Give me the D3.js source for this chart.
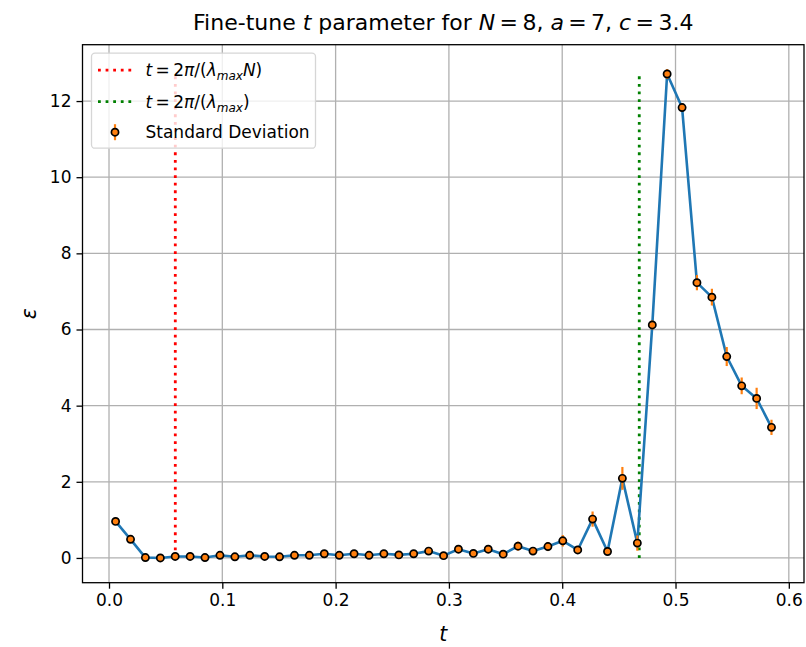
<!DOCTYPE html>
<html>
<head>
<meta charset="utf-8">
<script src="https://cdn.jsdelivr.net/npm/d3@7"></script>
<style>
body { margin: 0; background: #fff; }
svg text { font-family: "DejaVu Sans", sans-serif; fill: #000; }
</style>
</head>
<body>
<div class="chart"></div>
<script>
// sampled t values
var tValues = [0.0058, 0.0190, 0.0321, 0.0453, 0.0584, 0.0716, 0.0847, 0.0979, 0.1111, 0.1242,
    0.1374, 0.1505, 0.1637, 0.1768, 0.1900, 0.2032, 0.2163, 0.2295, 0.2426, 0.2558,
    0.2689, 0.2821, 0.2953, 0.3084, 0.3216, 0.3347, 0.3479, 0.3610, 0.3742, 0.3874,
    0.4005, 0.4137, 0.4268, 0.4400, 0.4531, 0.4663, 0.4795, 0.4926, 0.5058, 0.5189,
    0.5321, 0.5452, 0.5584, 0.5716, 0.5847];

// mean epsilon
var epsValues = [0.96, 0.49, 0.01, 0.00, 0.04, 0.04, 0.01, 0.07, 0.03, 0.07,
    0.04, 0.03, 0.07, 0.07, 0.11, 0.07, 0.11, 0.07, 0.11, 0.08,
    0.11, 0.18, 0.06, 0.23, 0.12, 0.23, 0.10, 0.31, 0.18, 0.30,
    0.45, 0.21, 1.02, 0.17, 2.09, 0.39, 6.12, 12.71, 11.83, 7.23,
    6.85, 5.29, 4.52, 4.19, 3.43];

// standard deviation
var epsErrors = [0.06, 0.05, 0.03, 0.03, 0.04, 0.03, 0.03, 0.04, 0.03, 0.04,
    0.03, 0.04, 0.04, 0.04, 0.05, 0.04, 0.05, 0.04, 0.05, 0.04,
    0.05, 0.08, 0.04, 0.10, 0.06, 0.09, 0.05, 0.12, 0.08, 0.12,
    0.15, 0.10, 0.20, 0.08, 0.30, 0.20, 0.12, 0.13, 0.10, 0.20,
    0.22, 0.25, 0.22, 0.28, 0.20];

var xTicks = [0.0, 0.1, 0.2, 0.3, 0.4, 0.5, 0.6];
var yTicks = [0, 2, 4, 6, 8, 10, 12];

var tRed = 0.0585;   // 2pi/(lambda_max N)
var tGreen = 0.468;  // 2pi/lambda_max

var svgWidth = 806;
var svgHeight = 647;

var margin = {
    top: 44.7,
    right: 2,
    bottom: 64.3,
    left: 82.5
};

var width = svgWidth - margin.left - margin.right;
var height = svgHeight - margin.top - margin.bottom;

var svg = d3.select(".chart")
    .append("svg")
    .attr("width", svgWidth)
    .attr("height", svgHeight);

var chartGroup = svg.append("g")
    .attr("transform", `translate(${margin.left}, ${margin.top})`);

var xScale = d3.scaleLinear()
    .domain([-0.0234, 0.6134])
    .range([0, width]);

var yScale = d3.scaleLinear()
    .domain([-0.65, 13.48])
    .range([height, 0]);

// grid
chartGroup.append("g")
    .selectAll("line")
    .data(xTicks)
    .enter()
    .append("line")
    .attr("x1", d => xScale(d))
    .attr("x2", d => xScale(d))
    .attr("y1", 0)
    .attr("y2", height)
    .attr("stroke", "#b0b0b0")
    .attr("stroke-width", 1.3);

chartGroup.append("g")
    .selectAll("line")
    .data(yTicks)
    .enter()
    .append("line")
    .attr("x1", 0)
    .attr("x2", width)
    .attr("y1", d => yScale(d))
    .attr("y2", d => yScale(d))
    .attr("stroke", "#b0b0b0")
    .attr("stroke-width", 1.3);

// axes
var bottomAxis = d3.axisBottom(xScale)
    .tickValues(xTicks)
    .tickFormat(d3.format(".1f"))
    .tickSize(6)
    .tickPadding(5);

var leftAxis = d3.axisLeft(yScale)
    .tickValues(yTicks)
    .tickFormat(d3.format("d"))
    .tickSize(6)
    .tickPadding(5);

var xAxisG = chartGroup.append("g")
    .attr("transform", `translate(0, ${height})`)
    .call(bottomAxis);

var yAxisG = chartGroup.append("g").call(leftAxis);

[xAxisG, yAxisG].forEach(function(g) {
    g.select(".domain").remove();
    g.selectAll(".tick line").attr("stroke", "#000").attr("stroke-width", 1.3);
    g.selectAll(".tick text")
        .attr("font-size", "17px")
        .attr("font-family", "DejaVu Sans")
        .attr("fill", "#262626");
});

// vertical reference lines
var ymaxVal = d3.max(epsValues);
[[tRed, "red"], [tGreen, "green"]].forEach(function(v) {
    chartGroup.append("line")
        .attr("x1", xScale(v[0]))
        .attr("x2", xScale(v[0]))
        .attr("y1", yScale(0))
        .attr("y2", yScale(ymaxVal))
        .attr("stroke", v[1])
        .attr("stroke-width", 2.8)
        .attr("stroke-dasharray", "2.8,4.8");
});

// line
var line = d3.line()
    .x((d, i) => xScale(tValues[i]))
    .y(d => yScale(d));

chartGroup.append("path")
    .datum(epsValues)
    .attr("d", line)
    .attr("fill", "none")
    .attr("stroke", "#1f77b4")
    .attr("stroke-width", 2.6)
    .attr("stroke-linejoin", "round")
    .attr("stroke-linecap", "round");

// error bars
chartGroup.append("g")
    .selectAll("line")
    .data(epsValues)
    .enter()
    .append("line")
    .attr("x1", (d, i) => xScale(tValues[i]))
    .attr("x2", (d, i) => xScale(tValues[i]))
    .attr("y1", (d, i) => yScale(d - epsErrors[i]))
    .attr("y2", (d, i) => yScale(d + epsErrors[i]))
    .attr("stroke", "#ff7f0e")
    .attr("stroke-width", 2.2);

// markers
chartGroup.append("g")
    .selectAll("circle")
    .data(epsValues)
    .enter()
    .append("circle")
    .attr("cx", (d, i) => xScale(tValues[i]))
    .attr("cy", d => yScale(d))
    .attr("r", 3.6)
    .attr("fill", "#ff7f0e")
    .attr("stroke", "#000")
    .attr("stroke-width", 1.7);

// frame
chartGroup.append("rect")
    .attr("x", 0)
    .attr("y", 0)
    .attr("width", width)
    .attr("height", height)
    .attr("fill", "none")
    .attr("stroke", "#000")
    .attr("stroke-width", 1.3);

// legend
var legend = chartGroup.append("g")
    .attr("transform", "translate(9, 8.5)");

legend.append("rect")
    .attr("width", 224)
    .attr("height", 95)
    .attr("rx", 3.5)
    .attr("fill", "#fff")
    .attr("fill-opacity", 0.8)
    .attr("stroke", "#d6d6d6")
    .attr("stroke-width", 1.3);

var rowY = [17, 48.5, 79];

[["red", 0], ["green", 1]].forEach(function(r) {
    legend.append("line")
        .attr("x1", 6.5)
        .attr("x2", 40.5)
        .attr("y1", rowY[r[1]])
        .attr("y2", rowY[r[1]])
        .attr("stroke", r[0])
        .attr("stroke-width", 2.8)
        .attr("stroke-dasharray", "2.8,4.8");
});

legend.append("line")
    .attr("x1", 23.5)
    .attr("x2", 23.5)
    .attr("y1", rowY[2] - 8)
    .attr("y2", rowY[2] + 8)
    .attr("stroke", "#ff7f0e")
    .attr("stroke-width", 2.2);

legend.append("circle")
    .attr("cx", 23.5)
    .attr("cy", rowY[2])
    .attr("r", 3.6)
    .attr("fill", "#ff7f0e")
    .attr("stroke", "#000")
    .attr("stroke-width", 1.7);

function mathLabel(g, y, withN) {
    var t = g.append("text")
        .attr("x", 54)
        .attr("y", y + 6)
        .attr("font-size", "17px");
    t.append("tspan").attr("font-style", "italic").text("t");
    t.append("tspan").text("\u2009=\u20092");
    t.append("tspan").attr("font-style", "italic").text("\u03c0");
    t.append("tspan").text("/(");
    t.append("tspan").attr("font-style", "italic").text("\u03bb");
    t.append("tspan").attr("font-style", "italic").attr("font-size", "12px").attr("dy", 4).text("max");
    if (withN) {
        t.append("tspan").attr("font-style", "italic").attr("dy", -4).text("N");
        t.append("tspan").text(")");
    } else {
        t.append("tspan").attr("dy", -4).text(")");
    }
}

mathLabel(legend, rowY[0], true);
mathLabel(legend, rowY[1], false);

legend.append("text")
    .attr("x", 54)
    .attr("y", rowY[2] + 6)
    .attr("font-size", "17px")
    .text("Standard Deviation");

// title
var title = svg.append("text")
    .attr("x", margin.left + width / 2)
    .attr("y", 30)
    .attr("text-anchor", "middle")
    .attr("font-size", "22px");
title.append("tspan").text("Fine-tune ");
title.append("tspan").attr("font-style", "italic").text("t");
title.append("tspan").text(" parameter for ");
title.append("tspan").attr("font-style", "italic").text("N");
title.append("tspan").text("\u2009=\u20098, ");
title.append("tspan").attr("font-style", "italic").text("a");
title.append("tspan").text("\u2009=\u20097, ");
title.append("tspan").attr("font-style", "italic").text("c");
title.append("tspan").text("\u2009=\u20093.4");

// axis labels
svg.append("text")
    .attr("x", margin.left + width / 2)
    .attr("y", 641)
    .attr("text-anchor", "middle")
    .attr("font-size", "20.4px")
    .attr("font-style", "italic")
    .text("t");

svg.append("text")
    .attr("transform", `translate(36, ${margin.top + height / 2}) rotate(-90)`)
    .attr("text-anchor", "middle")
    .attr("font-size", "20.4px")
    .attr("font-style", "italic")
    .text("\u03b5");
</script>
</body>
</html>
